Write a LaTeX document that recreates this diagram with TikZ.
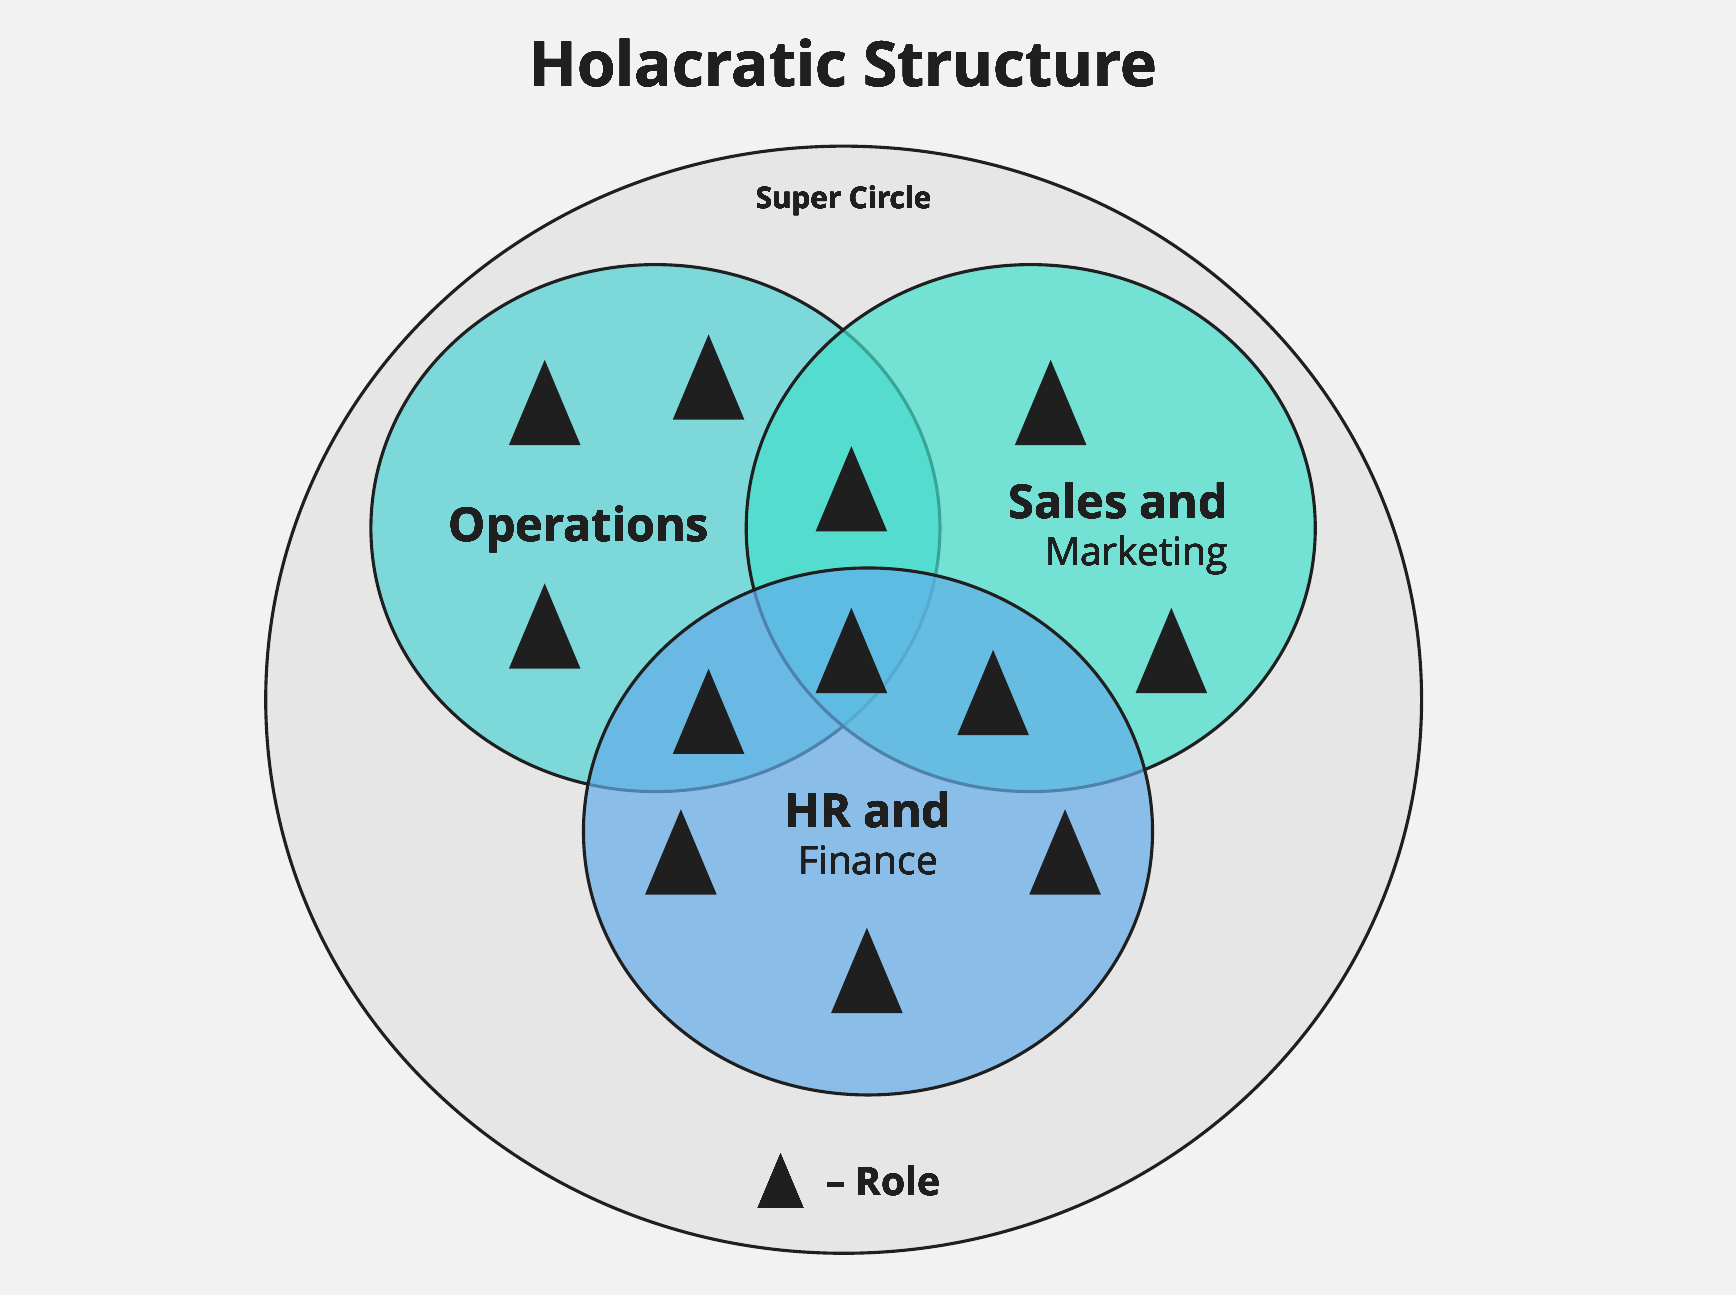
\documentclass[tikz,border=0pt]{standalone}
\usepackage{fontspec}
\setmainfont{Open Sans}
\definecolor{bgc}{HTML}{F2F2F2}
\definecolor{superc}{HTML}{E6E6E6}
\definecolor{opsc}{RGB}{81,211,213}
\definecolor{salesc}{RGB}{67,223,203}
\definecolor{hrc}{RGB}{99,173,233}
\definecolor{ink}{HTML}{1F1F1F}
\newcommand{\roletri}[3]{\fill[ink] (#1,#2) -- (#1-#3*0.42,#2+#3) -- (#1+#3*0.42,#2+#3) -- cycle;}
\begin{document}
\begin{tikzpicture}[x=0.01cm,y=-0.01cm,join=round]
  \fill[bgc] (0,0) rectangle (1568,1170);
  % circles
  \filldraw[fill=superc,draw=ink,line width=0.8pt] (762,632) ellipse (522 and 500);
  \filldraw[fill=opsc,fill opacity=0.7,draw=ink,line width=0.8pt] (592,477) ellipse (257 and 238);
  \filldraw[fill=salesc,fill opacity=0.7,draw=ink,line width=0.8pt] (931,477) ellipse (257 and 238);
  \filldraw[fill=hrc,fill opacity=0.7,draw=ink,line width=0.8pt] (784,751) ellipse (257 and 238);
  % roles
  \foreach \x/\y in {492/325,640/302,492/527,769/403,949/325,1058/549,769/549,640/604,897/587,615/731,962/731,783/838}
    \roletri{\x}{\y}{77}
  \roletri{705}{1042}{49}
  % texts
  \fill[ink]
    (762,57) node {\fontsize{16}{19}\selectfont\bfseries Holacratic Structure}
    (762,181) node {\fontsize{7.6}{9}\selectfont\bfseries Super Circle}
    (523,478) node {\fontsize{12}{15}\selectfont\bfseries Operations}
    (1010,478) node[align=right] {\fontsize{12}{15.8}\selectfont\bfseries Sales and\\Marketing}
    (784,753) node[align=center] {\fontsize{12}{15.8}\selectfont\bfseries HR and\\Finance}
    (798,1067) node {\fontsize{10}{12}\selectfont\bfseries -- Role};
\end{tikzpicture}
\end{document}
